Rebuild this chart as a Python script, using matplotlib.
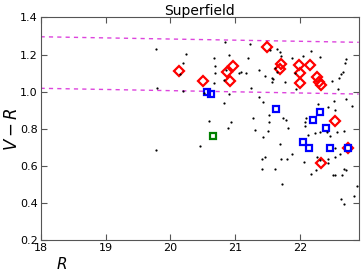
import matplotlib
matplotlib.use('Agg')
import matplotlib.pyplot as plt

# all catalogue objects (R, V-R)
dots_R = [19.78, 19.80, 19.78, 20.24, 20.19, 20.15, 20.67, 20.68, 20.69, 20.67,
          20.19, 20.51, 20.84, 21.23, 20.90, 21.20, 20.85, 21.05, 21.09, 21.16,
          20.83, 21.37, 21.45, 21.24, 20.90, 21.37, 21.53, 21.57, 21.58, 21.56,
          21.77, 21.64, 21.69, 21.71, 21.87, 22.04, 22.17, 22.31, 22.70, 22.69,
          22.66, 22.62, 22.60, 22.49, 22.58, 21.61, 21.64, 21.92, 21.93, 22.71,
          22.79, 22.28, 22.52, 22.42, 22.54, 21.42, 20.83, 21.27, 21.52, 21.52,
          21.73, 21.78, 21.81, 20.94, 20.89, 21.30, 21.51, 21.43, 21.69, 21.41,
          21.46, 21.71, 21.79, 20.60, 20.45, 22.09, 22.07, 22.07, 22.22, 22.12,
          22.31, 22.41, 22.46, 22.56, 22.67, 22.54, 22.61, 22.54, 22.43, 22.25,
          22.31, 21.87, 22.05, 21.41, 21.61, 21.72, 22.17, 22.24, 22.42, 22.51,
          22.54, 22.65, 22.68, 22.71, 22.87, 22.62, 22.68, 22.83]
dots_VR = [1.228, 1.020, 0.684, 1.202, 1.153, 1.094, 1.184, 1.138, 1.103, 1.045,
           1.005, 0.991, 1.266, 1.257, 1.198, 1.182, 1.117, 1.102, 1.108, 1.102,
           1.065, 1.117, 1.087, 1.018, 0.987, 0.973, 1.225, 1.075, 1.068, 1.052,
           1.051, 1.228, 1.216, 1.194, 1.180, 1.194, 1.220, 1.189, 1.175, 1.157,
           1.108, 1.093, 1.076, 1.060, 1.014, 1.126, 1.108, 1.102, 1.013, 0.958,
           0.920, 0.933, 0.951, 0.919, 0.901, 0.946, 0.937, 0.860, 0.874, 0.838,
           0.860, 0.846, 0.806, 0.838, 0.802, 0.793, 0.789, 0.753, 0.719, 0.638,
           0.646, 0.634, 0.636, 0.843, 0.707, 0.856, 0.835, 0.816, 0.775, 0.766,
           0.781, 0.781, 0.762, 0.784, 0.788, 0.694, 0.661, 0.648, 0.639, 0.649,
           0.631, 0.662, 0.618, 0.584, 0.581, 0.501, 0.554, 0.576, 0.615, 0.552,
           0.552, 0.549, 0.584, 0.580, 0.493, 0.420, 0.393, 0.437]

# red-sequence candidates
red_R = [20.13, 20.50, 20.87, 20.96, 20.92, 21.49, 21.71, 21.68, 21.98, 22.15,
         21.99, 21.99, 22.26, 22.29, 22.32, 22.54, 22.32, 22.73]
red_VR = [1.113, 1.060, 1.105, 1.140, 1.055, 1.239, 1.150, 1.121, 1.146, 1.142,
          1.098, 1.048, 1.077, 1.050, 1.035, 0.843, 0.615, 0.695]

# blue objects
blue_R = [20.57, 20.63, 21.63, 22.31, 22.19, 22.40, 22.04, 22.14, 22.46, 22.73]
blue_VR = [0.997, 0.987, 0.908, 0.891, 0.847, 0.802, 0.727, 0.694, 0.694, 0.694]

# green object
green_R = [20.66]
green_VR = [0.759]

# red sequence limits
line_R = [18.0, 22.9]
upper_VR = [1.296, 1.266]
lower_VR = [1.018, 0.987]

fig = plt.figure(figsize=(3.64, 2.73), dpi=100)
ax = fig.add_axes([0.1115, 0.121, 0.874, 0.815])

ax.plot(line_R, upper_VR, '--', color='#dd44dd', lw=1.0, dashes=(3, 3))
ax.plot(line_R, lower_VR, '--', color='#dd44dd', lw=1.0, dashes=(3, 3))

ax.plot(red_R, red_VR, 'D', ms=4.8, mfc='none', mec='red', mew=1.6)
ax.plot(blue_R, blue_VR, 's', ms=4.3, mfc='none', mec='blue', mew=1.6)
ax.plot(green_R, green_VR, 's', ms=4.3, mfc='none', mec='green', mew=1.6)
ax.plot(dots_R, dots_VR, 'o', color='black', ms=1.6, mew=0)

ax.set_xlim(18, 22.9)
ax.set_ylim(0.2, 1.4)
ax.set_xticks([18, 19, 20, 21, 22])
ax.set_yticks([0.2, 0.4, 0.6, 0.8, 1.0, 1.2, 1.4])
ax.tick_params(direction='in', top=True, right=True, labelsize=8, length=4,
               color='#555555', pad=2)
for s in ax.spines.values():
    s.set_color('#555555')

ax.set_title('Superfield', fontsize=10, pad=2)
ax.set_xlabel('$R$', fontsize=11)
ax.set_ylabel('$V-R$', fontsize=12)
ax.xaxis.set_label_coords(0.067, -0.07)
ax.yaxis.set_label_coords(-0.06, 0.5)

fig.savefig('out.png', dpi=100)
